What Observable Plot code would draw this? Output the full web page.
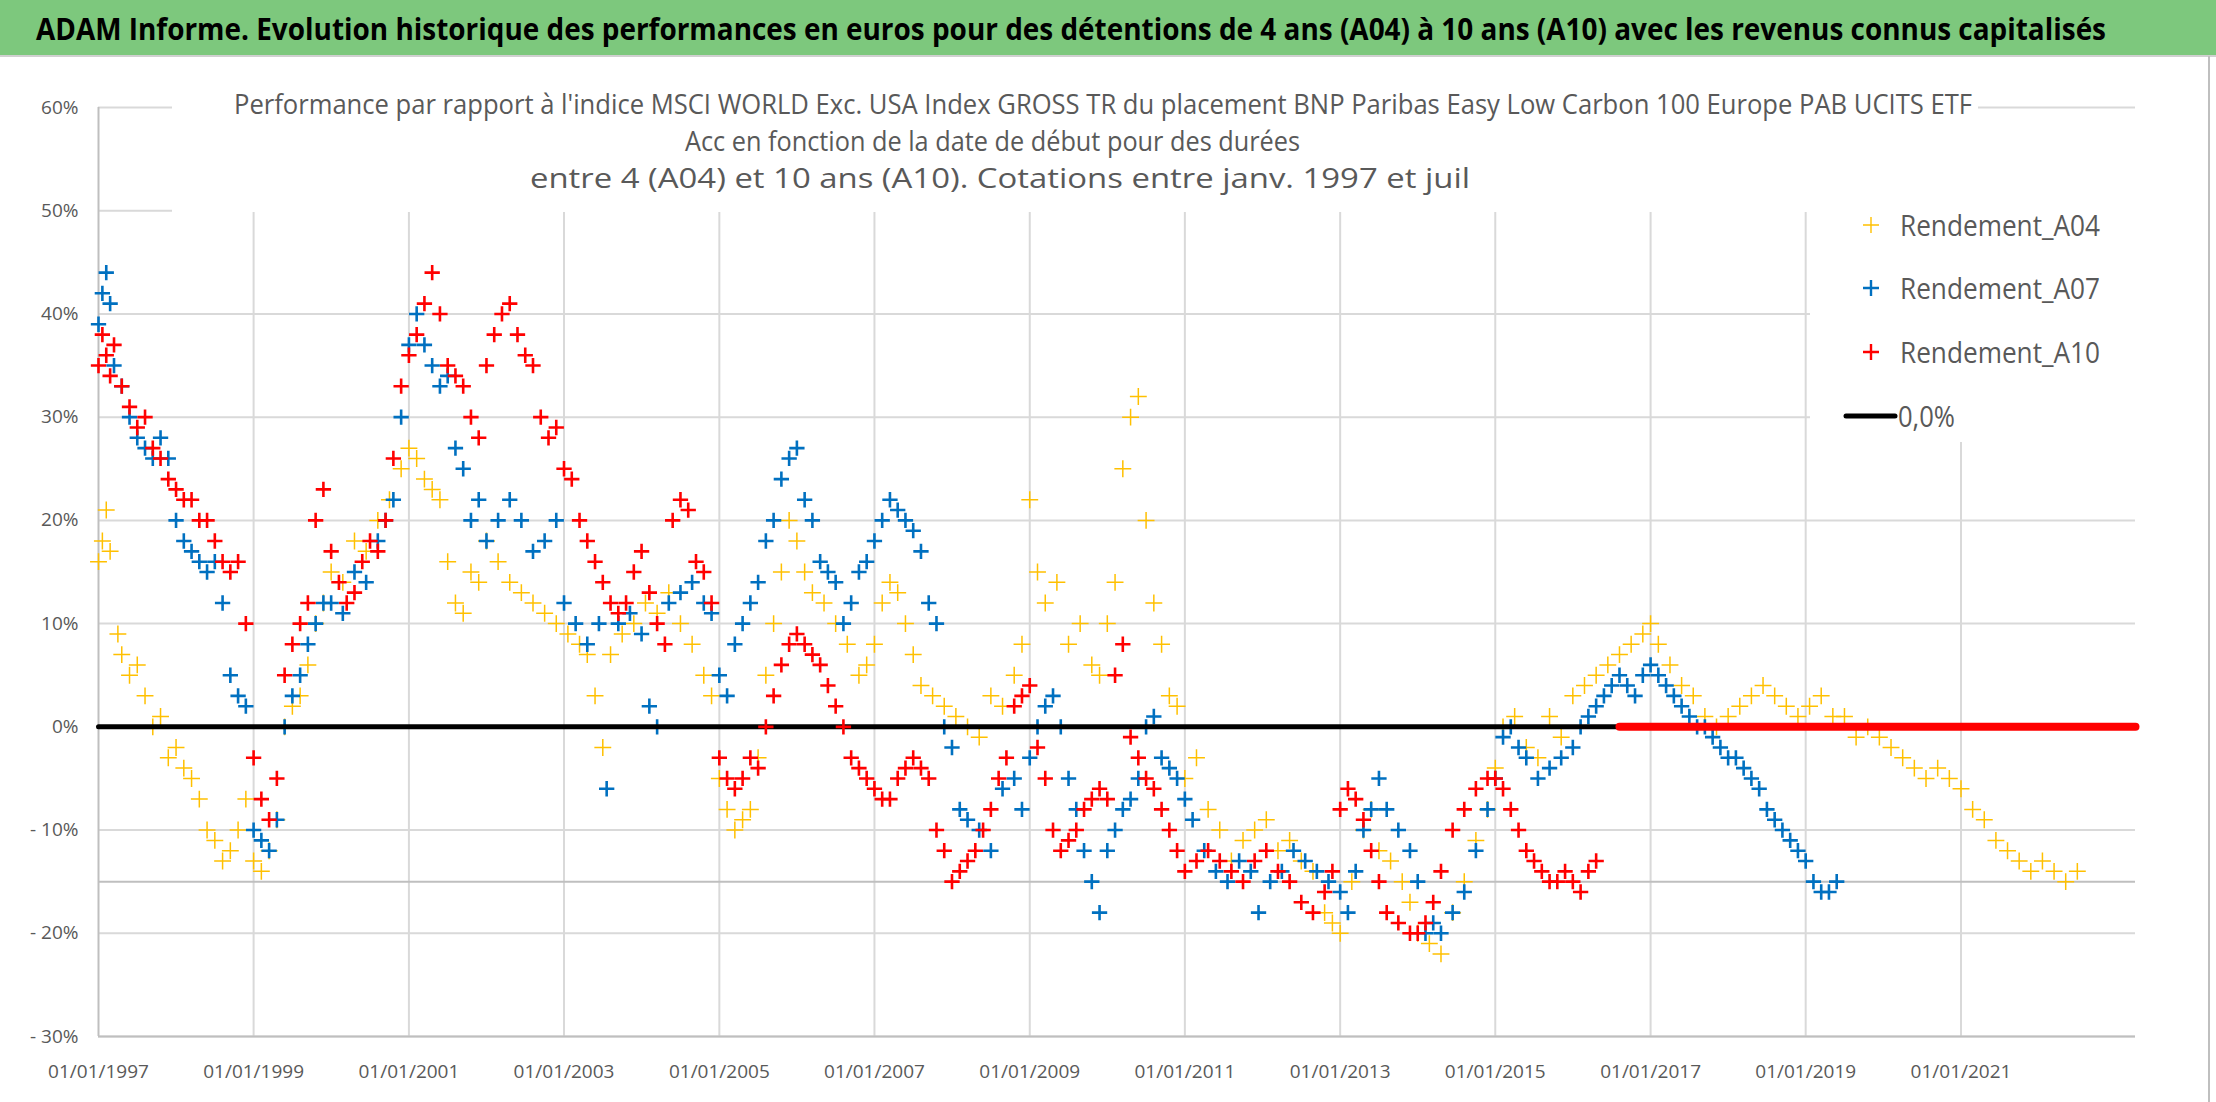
<!DOCTYPE html>
<html><head><meta charset="utf-8">
<script src="https://cdn.jsdelivr.net/npm/d3@7"></script>
<script src="https://cdn.jsdelivr.net/npm/@observablehq/plot@0.6"></script>
<style>
body{margin:0;background:#fff;width:2216px;height:1102px;overflow:hidden;position:relative;font-family:"Open Sans",sans-serif}
#chart{position:absolute;left:0;top:0}
#over{position:absolute;left:0;top:0}
</style></head><body>
<div id="chart"></div>
<svg id="over" width="2216" height="1102"></svg>
<script>
const titleText = "ADAM Informe. Evolution historique des performances en euros pour des détentions de 4 ans (A04) à 10 ans (A10) avec les revenus connus capitalisés";
const subtitleLines = [
 "Performance par rapport à l'indice MSCI WORLD Exc. USA Index GROSS TR  du placement BNP Paribas Easy Low Carbon 100 Europe PAB UCITS ETF",
 "Acc en fonction de la date de début pour des durées",
 "entre 4 (A04) et 10 ans (A10). Cotations entre janv. 1997 et juil"
];
const seriesNames = ["Rendement_A04","Rendement_A07","Rendement_A10","0,0%"];
const seriesColors = ["#FFC000","#0070C0","#FF0000","#000000"];
const yTicks = [-30,-20,-10,0,10,20,30,40,50,60];
const xTickYears = [1997,1999,2001,2003,2005,2007,2009,2011,2013,2015,2017,2019,2021];

const a04T = [1997.0,1997.05,1997.1,1997.15,1997.25,1997.3,1997.4,1997.5,1997.6,1997.7,1997.8,1997.9,1998.0,1998.1,1998.2,1998.3,1998.4,1998.5,1998.6,1998.7,1998.8,1998.9,1999.0,1999.1,1999.2,1999.3,1999.4,1999.5,1999.6,1999.7,1999.8,1999.9,2000.0,2000.15,2000.3,2000.45,2000.6,2000.75,2000.9,2001.0,2001.1,2001.2,2001.3,2001.4,2001.5,2001.6,2001.7,2001.8,2001.9,2002.0,2002.15,2002.3,2002.45,2002.6,2002.75,2002.9,2003.05,2003.2,2003.3,2003.4,2003.5,2003.6,2003.75,2003.9,2004.05,2004.2,2004.35,2004.5,2004.65,2004.8,2004.9,2005.0,2005.1,2005.2,2005.3,2005.4,2005.5,2005.6,2005.7,2005.8,2005.9,2006.0,2006.1,2006.2,2006.35,2006.5,2006.65,2006.8,2006.9,2007.0,2007.1,2007.2,2007.3,2007.4,2007.5,2007.6,2007.75,2007.9,2008.05,2008.2,2008.35,2008.5,2008.65,2008.8,2008.9,2009.0,2009.1,2009.2,2009.35,2009.5,2009.65,2009.8,2009.9,2010.0,2010.1,2010.2,2010.3,2010.4,2010.5,2010.6,2010.7,2010.8,2010.9,2011.0,2011.15,2011.3,2011.45,2011.6,2011.75,2011.9,2012.05,2012.2,2012.35,2012.5,2012.65,2012.8,2012.9,2013.0,2013.15,2013.3,2013.4,2013.5,2013.65,2013.8,2013.9,2014.0,2014.15,2014.3,2014.45,2014.6,2014.75,2014.9,2015.0,2015.1,2015.25,2015.4,2015.55,2015.7,2015.85,2016.0,2016.15,2016.3,2016.45,2016.6,2016.75,2016.9,2017.0,2017.1,2017.25,2017.4,2017.55,2017.7,2017.85,2018.0,2018.15,2018.3,2018.45,2018.6,2018.75,2018.9,2019.05,2019.2,2019.35,2019.5,2019.65,2019.8,2019.95,2020.1,2020.25,2020.4,2020.55,2020.7,2020.85,2021.0,2021.15,2021.3,2021.45,2021.6,2021.75,2021.9,2022.05,2022.2,2022.35,2022.5,2022.65,2022.8,2022.95,2023.1];
const a04V = [16,18,21,17,9,7,5,6,3,0,1,-3,-2,-4,-5,-7,-10,-11,-13,-12,-10,-7,-13,-14,-12,-9,0,2,3,6,10,12,15,14,18,17,20,22,25,27,26,24,23,22,16,12,11,15,14,18,16,14,13,12,11,10,9,8,7,3,-2,7,9,10,12,11,13,10,8,5,3,-5,-8,-10,-9,-8,-3,5,10,15,20,18,15,13,12,10,8,5,6,8,12,14,13,10,7,4,3,2,1,0,-1,3,2,5,8,22,15,12,14,8,10,6,5,10,14,25,30,32,20,12,8,3,2,-5,-3,-8,-10,-13,-11,-10,-9,-12,-11,-13,-14,-18,-19,-20,-15,-10,-8,-12,-13,-15,-17,-20,-21,-22,-18,-15,-11,-8,-4,0,1,-2,-3,1,-1,3,4,5,6,7,8,9,10,8,6,4,3,1,0,1,2,3,4,3,2,1,2,3,1,1,-1,0,-1,-2,-3,-4,-5,-4,-5,-6,-8,-9,-11,-12,-13,-14,-13,-14,-15,-14];

const a07T = [1997.0,1997.05,1997.1,1997.15,1997.2,1997.3,1997.4,1997.5,1997.6,1997.7,1997.8,1997.9,1998.0,1998.1,1998.2,1998.3,1998.4,1998.5,1998.6,1998.7,1998.8,1998.9,1999.0,1999.1,1999.2,1999.3,1999.4,1999.5,1999.6,1999.7,1999.8,1999.9,2000.0,2000.15,2000.3,2000.45,2000.6,2000.7,2000.8,2000.9,2001.0,2001.1,2001.2,2001.3,2001.4,2001.5,2001.6,2001.7,2001.8,2001.9,2002.0,2002.15,2002.3,2002.45,2002.6,2002.75,2002.9,2003.0,2003.15,2003.3,2003.45,2003.55,2003.7,2003.85,2004.0,2004.1,2004.2,2004.35,2004.5,2004.65,2004.8,2004.9,2005.0,2005.1,2005.2,2005.3,2005.4,2005.5,2005.6,2005.7,2005.8,2005.9,2006.0,2006.1,2006.2,2006.3,2006.4,2006.5,2006.6,2006.7,2006.8,2006.9,2007.0,2007.1,2007.2,2007.3,2007.4,2007.5,2007.6,2007.7,2007.8,2007.9,2008.0,2008.1,2008.2,2008.35,2008.5,2008.65,2008.8,2008.9,2009.0,2009.1,2009.2,2009.3,2009.4,2009.5,2009.6,2009.7,2009.8,2009.9,2010.0,2010.1,2010.2,2010.3,2010.4,2010.5,2010.6,2010.7,2010.8,2010.9,2011.0,2011.1,2011.25,2011.4,2011.55,2011.7,2011.85,2011.95,2012.1,2012.25,2012.4,2012.55,2012.7,2012.85,2013.0,2013.1,2013.2,2013.3,2013.4,2013.5,2013.6,2013.75,2013.9,2014.0,2014.1,2014.2,2014.3,2014.45,2014.6,2014.75,2014.9,2015.0,2015.1,2015.2,2015.3,2015.4,2015.55,2015.7,2015.85,2016.0,2016.1,2016.2,2016.3,2016.4,2016.5,2016.6,2016.7,2016.8,2016.9,2017.0,2017.1,2017.2,2017.3,2017.4,2017.5,2017.6,2017.7,2017.8,2017.9,2018.0,2018.1,2018.2,2018.3,2018.4,2018.5,2018.6,2018.7,2018.8,2018.9,2019.0,2019.1,2019.2,2019.3,2019.4,2019.5,2019.6];
const a07V = [39,42,44,41,35,33,30,28,27,26,28,26,20,18,17,16,15,16,12,5,3,2,-10,-11,-12,-9,0,3,5,8,10,12,12,11,15,14,18,20,22,30,37,40,37,35,33,34,27,25,20,22,18,20,22,20,17,18,20,12,10,8,10,-6,10,11,9,2,0,12,13,14,12,11,5,3,8,10,12,14,18,20,24,26,27,22,20,16,15,14,10,12,15,16,18,20,22,21,20,19,17,12,10,0,-2,-8,-9,-10,-12,-6,-5,-8,-3,0,2,3,0,-5,-8,-12,-15,-18,-12,-10,-8,-7,-5,0,1,-3,-4,-5,-7,-9,-12,-14,-15,-13,-14,-18,-15,-14,-12,-13,-14,-15,-16,-18,-14,-10,-8,-5,-8,-10,-12,-15,-20,-19,-20,-18,-16,-12,-8,-5,-1,0,-2,-3,-5,-4,-3,-2,0,1,2,3,4,5,4,3,5,6,5,4,3,2,1,0,0,-1,-2,-3,-3,-4,-5,-6,-8,-9,-10,-11,-12,-13,-15,-16,-16,-15];

const a10T = [1997.0,1997.05,1997.1,1997.15,1997.2,1997.3,1997.4,1997.5,1997.6,1997.7,1997.8,1997.9,1998.0,1998.1,1998.2,1998.3,1998.4,1998.5,1998.6,1998.7,1998.8,1998.9,1999.0,1999.1,1999.2,1999.3,1999.4,1999.5,1999.6,1999.7,1999.8,1999.9,2000.0,2000.1,2000.2,2000.3,2000.4,2000.5,2000.6,2000.7,2000.8,2000.9,2001.0,2001.1,2001.2,2001.3,2001.4,2001.5,2001.6,2001.7,2001.8,2001.9,2002.0,2002.1,2002.2,2002.3,2002.4,2002.5,2002.6,2002.7,2002.8,2002.9,2003.0,2003.1,2003.2,2003.3,2003.4,2003.5,2003.6,2003.7,2003.8,2003.9,2004.0,2004.1,2004.2,2004.3,2004.4,2004.5,2004.6,2004.7,2004.8,2004.9,2005.0,2005.1,2005.2,2005.3,2005.4,2005.5,2005.6,2005.7,2005.8,2005.9,2006.0,2006.1,2006.2,2006.3,2006.4,2006.5,2006.6,2006.7,2006.8,2006.9,2007.0,2007.1,2007.2,2007.3,2007.4,2007.5,2007.6,2007.7,2007.8,2007.9,2008.0,2008.1,2008.2,2008.3,2008.4,2008.5,2008.6,2008.7,2008.8,2008.9,2009.0,2009.1,2009.2,2009.3,2009.4,2009.5,2009.6,2009.7,2009.8,2009.9,2010.0,2010.1,2010.2,2010.3,2010.4,2010.5,2010.6,2010.7,2010.8,2010.9,2011.0,2011.15,2011.3,2011.45,2011.6,2011.75,2011.9,2012.05,2012.2,2012.35,2012.5,2012.65,2012.8,2012.9,2013.0,2013.1,2013.2,2013.3,2013.4,2013.5,2013.6,2013.75,2013.9,2014.0,2014.1,2014.2,2014.3,2014.45,2014.6,2014.75,2014.9,2015.0,2015.1,2015.2,2015.3,2015.4,2015.5,2015.6,2015.7,2015.8,2015.9,2016.0,2016.1,2016.2,2016.3,2016.4,2016.5];
const a10V = [35,38,36,34,37,33,31,29,30,27,26,24,23,22,22,20,20,18,16,15,16,10,-3,-7,-9,-5,5,8,10,12,20,23,17,14,12,13,16,18,17,20,26,33,36,38,41,44,40,35,34,33,30,28,35,38,40,41,38,36,35,30,28,29,25,24,20,18,16,14,12,11,12,15,17,13,10,8,20,22,21,16,15,12,-3,-5,-6,-5,-3,-4,0,3,6,8,9,8,7,6,4,2,0,-3,-4,-5,-6,-7,-7,-5,-4,-3,-4,-5,-10,-12,-15,-14,-13,-12,-10,-8,-5,-3,2,3,4,-2,-5,-10,-12,-11,-10,-8,-7,-6,-7,5,8,-1,-3,-5,-6,-8,-10,-12,-14,-13,-12,-13,-14,-15,-13,-12,-14,-15,-17,-18,-16,-14,-8,-6,-7,-9,-12,-15,-18,-19,-20,-20,-19,-17,-14,-10,-8,-6,-5,-5,-6,-8,-10,-12,-13,-14,-15,-15,-14,-15,-16,-14,-13];

const a10ZeroRange = [2016.6, 2023.25];
const zeroLineRange = [1997.0, 2023.25];

const toDate = t => { const y = Math.floor(t); const s = Date.UTC(y,0,1), e = Date.UTC(y+1,0,1); return new Date(s + (t-y)*(e-s)); };
const mk = (T,V) => T.map((t,i)=>({x:toDate(t), y:V[i]}));
const d04 = mk(a04T,a04V), d07 = mk(a07T,a07V), d10 = mk(a10T,a10V);
const zeroA10 = a10ZeroRange.map(t=>({x:toDate(t),y:0}));
const zeroLine = zeroLineRange.map(t=>({x:toDate(t),y:0}));
const fmtDate = d3.utcFormat("%d/%m/%Y");
const fmtPct = v => v < 0 ? "- " + Math.abs(v) + "%" : v + "%";

const chart = Plot.plot({
  width: 2216, height: 1102,
  marginTop: 107, marginBottom: 66, marginLeft: 98, marginRight: 81,
  style: {fontFamily: "Open Sans", fontSize: "19px", color: "#595959", background: "transparent"},
  x: {type: "utc", domain: [toDate(1997.0), toDate(2023.25)], label: null},
  y: {domain: [-30, 60], label: null},
  marks: [
    Plot.gridY(yTicks, {stroke: "#d9d9d9", strokeOpacity: 1, strokeWidth: 2}),
    Plot.gridX(xTickYears.slice(1).map(y=>toDate(y)), {stroke: "#d9d9d9", strokeOpacity: 1, strokeWidth: 2}),
    Plot.ruleY([-15], {stroke: "#bfbfbf", strokeWidth: 2}),
    Plot.ruleY([-30], {stroke: "#bfbfbf", strokeWidth: 2}),
    Plot.ruleX([toDate(1997.0)], {stroke: "#bfbfbf", strokeWidth: 2}),
    Plot.dot(d04, {x:"x", y:"y", symbol:"plus", r:5.5, stroke:seriesColors[0], strokeWidth:1.5}),
    Plot.dot(d07, {x:"x", y:"y", symbol:"plus", r:5, stroke:seriesColors[1], strokeWidth:2.6}),
    Plot.line(zeroLine, {x:"x", y:"y", stroke:"#000", strokeWidth:5}),
    Plot.dot(d10, {x:"x", y:"y", symbol:"plus", r:5, stroke:seriesColors[2], strokeWidth:2.6}),
    Plot.line(zeroA10, {x:"x", y:"y", stroke:seriesColors[2], strokeWidth:8}),
    Plot.axisX({ticks: xTickYears.map(y=>toDate(y)), tickFormat: fmtDate, tickSize: 0, tickPadding: 28, fontSize: 19, fill:"#595959"}),
    Plot.axisY({ticks: yTicks, tickFormat: fmtPct, tickSize: 0, tickPadding: 20, fontSize: 19, fill:"#595959"})
  ]
});
document.getElementById("chart").appendChild(chart);

const ns = "http://www.w3.org/2000/svg";
const over = document.getElementById("over");
function el(tag, attrs, text){const e=document.createElementNS(ns,tag);for(const k in attrs)e.setAttribute(k,attrs[k]);if(text!==undefined)e.textContent=text;over.appendChild(e);return e;}
el("rect",{x:0,y:0,width:2216,height:55,fill:"#7DC87D"});
el("line",{x1:0,y1:56,x2:2216,y2:56,stroke:"#d0d0d0","stroke-width":2});
el("line",{x1:2209,y1:56,x2:2209,y2:1102,stroke:"#bfbfbf","stroke-width":2});
el("text",{x:36,y:40,"font-family":"Open Sans","font-weight":"bold","font-size":31,fill:"#000",textLength:2070,lengthAdjust:"spacingAndGlyphs"},titleText);
el("rect",{x:172,y:62,width:1806,height:150,fill:"#fff"});
const subX=[234,685,530], subW=[1738,615,940];
subtitleLines.forEach((s,i)=>el("text",{x:subX[i],y:114+i*37,"font-family":"Open Sans","font-size":27,fill:"#595959",textLength:subW[i],lengthAdjust:"spacingAndGlyphs"},s));
el("rect",{x:1810,y:192,width:330,height:250,fill:"#fff"});
const legY=[225,288,352,416];
seriesNames.forEach((n,i)=>{
  if(i<3){
    el("path",{d:`M${1863},${legY[i]}h16M${1871},${legY[i]-8}v16`,stroke:seriesColors[i],"stroke-width":i==0?1.4:2.4});
    el("text",{x:1900,y:legY[i]+11,"font-family":"Open Sans","font-size":29,fill:"#595959",textLength:200,lengthAdjust:"spacingAndGlyphs"},n);
  } else {
    el("line",{x1:1846,y1:legY[i],x2:1895,y2:legY[i],stroke:"#000","stroke-width":5,"stroke-linecap":"round"});
    el("text",{x:1898,y:legY[i]+11,"font-family":"Open Sans","font-size":29,fill:"#595959",textLength:57,lengthAdjust:"spacingAndGlyphs"},n);
  }
});
</script>
</body></html>
